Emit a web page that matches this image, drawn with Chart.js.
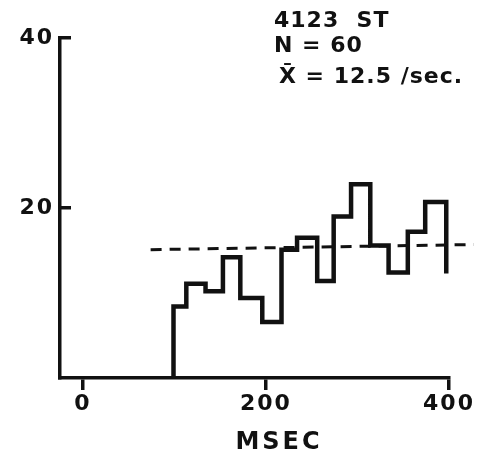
<!DOCTYPE html>
<html>
<head>
<meta charset="utf-8">
<script src="https://cdn.jsdelivr.net/npm/chart.js@4/dist/chart.umd.min.js"></script>
<style>
  body { margin: 0; background: #fff; }
  #wrap { position: relative; width: 482px; height: 466px; }
  .txt { position: absolute; font-family: "DejaVu Sans", sans-serif; font-weight: bold; color: #111; white-space: pre; }
  .note { left: 274px; font-size: 22px; line-height: 26px; letter-spacing: 1px; }
</style>
</head>
<body>
<div id="wrap">
  <canvas id="myChart" width="482" height="466"></canvas>
  <div class="txt note" style="top:7px">4123  ST</div>
  <div class="txt note" style="top:32px">N = 60</div>
  <div class="txt note" style="top:63px;left:279px">X̄ = 12.5 /sec.</div>
  <div class="txt" style="left:179px;width:200px;text-align:center;top:427px;font-size:24px;line-height:28px;letter-spacing:3px">MSEC</div>
</div>
<script>
// bin edges (msec), one more than the heights
var binEdges = [99, 113, 134, 153, 172, 196, 217, 234, 256, 274, 293, 314, 334, 355, 374, 397];
var binHeights = [8.4, 11.1, 10.2, 14.2, 9.4, 6.6, 15.1, 16.5, 11.4, 19.0, 22.8, 15.6, 12.4, 17.2, 20.7];
var tailHeight = 12.3;   // where the last bin drops to at the right edge
// dashed mean line
var meanX = [74, 427];
var meanY = [15.1, 15.7];
var xTicks = [0, 200, 400];
var yTicks = [20, 40];

var histPoints = [{x: binEdges[0], y: 0}];
binEdges.forEach(function(e, i) {
  histPoints.push({x: e, y: i < binHeights.length ? binHeights[i] : tailHeight});
});
var meanPoints = meanX.map(function(x, i) { return {x: x, y: meanY[i]}; });

var spacing = {
  id: 'spacing',
  beforeDraw: function(chart) { chart.ctx.letterSpacing = '2px'; }
};

var ctx = document.getElementById('myChart');
var myChart = new Chart(ctx, {
    type: 'line',
    data: {
        datasets: [{
            data: histPoints,
            stepped: true,
            borderColor: '#111',
            borderWidth: 4.5,
            borderJoinStyle: 'miter',
            pointRadius: 0,
            fill: false
        }, {
            data: meanPoints,
            borderColor: '#111',
            borderWidth: 3,
            borderDash: [11, 8],
            pointRadius: 0,
            clip: false,
            fill: false
        }]
    },
    plugins: [spacing],
    options: {
        responsive: false,
        animation: false,
        layout: { padding: { top: 38, right: 33, left: 0, bottom: 0 } },
        plugins: { legend: { display: false }, tooltip: { enabled: false } },
        scales: {
            x: {
                type: 'linear',
                min: -25,
                max: 400,
                afterFit: function(s) { s.height = 88; },
                afterBuildTicks: function(s) { s.ticks = xTicks.map(function(v) { return {value: v}; }); },
                ticks: { color: '#111', padding: 1, maxRotation: 0,
                         font: { family: 'DejaVu Sans', weight: 'bold', size: 22 } },
                grid: { drawOnChartArea: false, color: '#111', lineWidth: 3.5, tickLength: 12 },
                border: { color: '#111', width: 3.5 }
            },
            y: {
                min: 0,
                max: 40,
                afterFit: function(s) { s.width = 60; },
                afterBuildTicks: function(s) { s.ticks = yTicks.map(function(v) { return {value: v}; }); },
                ticks: { color: '#111', padding: 17,
                         font: { family: 'DejaVu Sans', weight: 'bold', size: 22 } },
                grid: { drawOnChartArea: false, color: '#111', lineWidth: 3.5, tickLength: -11 },
                border: { color: '#111', width: 3.5 }
            }
        }
    }
});
</script>
</body>
</html>
